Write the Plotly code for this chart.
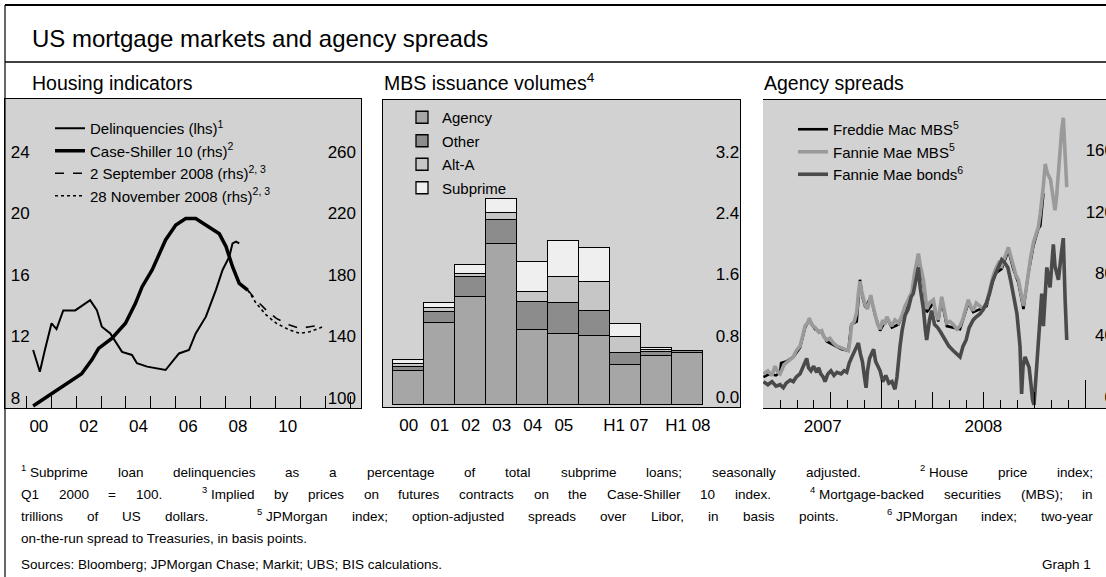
import re
import plotly.graph_objects as go

W, H = 1106, 577
FONT = "Liberation Sans, Arial, sans-serif"

# ---------------- Panel 1: Housing indicators ----------------
delinq_t = [2000.27, 2000.54, 2000.74, 2001.01, 2001.21, 2001.48, 2001.96, 2002.36, 2002.56, 2002.83,
            2003.03, 2003.37, 2003.64, 2003.84, 2004.24, 2004.44, 2004.85, 2005.25, 2005.59, 2005.86,
            2006.13, 2006.53, 2006.80, 2007.21, 2007.61, 2007.88, 2008.15, 2008.28, 2008.42, 2008.55]
delinq_v = [11.64, 10.23, 11.62, 13.38, 13.0, 14.22, 14.22, 14.68, 14.89, 14.24,
            13.16, 12.72, 12.08, 11.52, 11.32, 10.78, 10.56, 10.45, 10.34, 10.88,
            11.42, 11.64, 12.72, 13.81, 15.54, 16.85, 17.71, 18.58, 18.69, 18.58]

cs_t = [2000.27, 2001.01, 2001.55, 2002.22, 2002.63, 2002.90, 2003.43, 2003.98, 2004.38, 2004.65,
        2005.05, 2005.32, 2005.59, 2006.00, 2006.40, 2006.80, 2007.21, 2007.75, 2008.02, 2008.28,
        2008.55, 2008.89]
cs_v = [100.0, 108.0, 113.7, 121.0, 130.0, 137.5, 144.0, 153.8, 166.8, 177.6,
        188.5, 198.0, 208.0, 217.7, 222.0, 222.0, 217.7, 212.0, 203.6, 190.6,
        179.8, 175.4]

fut_sep_t = [2008.89, 2009.23, 2009.63, 2010.04, 2010.57, 2010.98, 2011.38, 2011.92]
fut_sep_v = [175.4, 168.9, 162.4, 157.0, 152.7, 150.5, 151.6, 152.7]
fut_nov_t = [2008.89, 2009.23, 2009.63, 2010.04, 2010.57, 2010.98, 2011.38, 2011.92]
fut_nov_v = [175.4, 166.8, 159.2, 153.8, 149.4, 147.3, 148.3, 151.6]

p1_year_ticks = list(range(2000, 2014))
p1_label_pos = [2000.5, 2002.5, 2004.5, 2006.5, 2008.5, 2010.5]
p1_label_text = ["00", "02", "04", "06", "08", "10"]
p1_lhs_ticks = [8, 12, 16, 20, 24]
p1_rhs_ticks = [100, 140, 180, 220, 260]

# ---------------- Panel 2: MBS issuance volumes ----------------
mbs_cat = ["00", "01", "02", "03", "04", "05", "06", "H1 07", "H2 07", "H1 08"]
mbs_ticktext = ["00", "01", "02", "03", "04", "05", "", "H1 07", "", "H1 08"]
agency = [0.44, 1.07, 1.41, 2.10, 0.98, 0.93, 0.905, 0.52, 0.64, 0.675]
other = [0.06, 0.15, 0.26, 0.32, 0.36, 0.40, 0.32, 0.16, 0.05, 0.025]
alt_a = [0.03, 0.04, 0.045, 0.08, 0.14, 0.34, 0.38, 0.21, 0.025, 0.007]
subprime = [0.06, 0.07, 0.11, 0.19, 0.38, 0.465, 0.44, 0.165, 0.035, 0.004]
p2_ticks = [0.0, 0.8, 1.6, 2.4, 3.2]

# ---------------- Panel 3: Agency spreads ----------------
fnm_mbs_t = [2007.418, 2007.44, 2007.46, 2007.475, 2007.49, 2007.50, 2007.52, 2007.545, 2007.565, 2007.58,
             2007.598, 2007.61, 2007.623, 2007.635, 2007.644, 2007.655, 2007.672, 2007.69, 2007.705, 2007.715,
             2007.73, 2007.745, 2007.762, 2007.78, 2007.803, 2007.82, 2007.836, 2007.845, 2007.852, 2007.865,
             2007.877, 2007.885, 2007.893, 2007.90, 2007.91, 2007.92, 2007.93, 2007.946, 2007.955, 2007.967,
             2007.98, 2007.992, 2008.005, 2008.015, 2008.025, 2008.04, 2008.05, 2008.065, 2008.082, 2008.10,
             2008.115, 2008.13, 2008.148, 2008.16, 2008.172, 2008.18, 2008.19, 2008.205, 2008.215, 2008.221,
             2008.235, 2008.254, 2008.265, 2008.278, 2008.295, 2008.305, 2008.32, 2008.335, 2008.352, 2008.37,
             2008.385, 2008.40, 2008.415, 2008.426, 2008.44, 2008.45, 2008.465, 2008.484, 2008.50, 2008.516,
             2008.533, 2008.545, 2008.557, 2008.575, 2008.59, 2008.605, 2008.623, 2008.635, 2008.647, 2008.66,
             2008.672, 2008.685, 2008.697, 2008.71, 2008.721, 2008.733, 2008.746, 2008.758, 2008.77, 2008.78,
             2008.787, 2008.795, 2008.804, 2008.815, 2008.83, 2008.84, 2008.852, 2008.86, 2008.868, 2008.877,
             2008.885, 2008.893, 2008.90, 2008.91]
fnm_mbs_v = [20, 22, 19, 25, 21, 20, 26, 29, 31, 35,
             38, 44, 51, 53, 56, 52, 50, 47, 48, 44,
             42, 43, 40, 38, 37, 36, 35, 43, 52, 54,
             60, 72, 80, 74, 68, 64, 62, 71, 65, 59,
             52, 49, 55, 52, 57, 53, 51, 55, 53, 58,
             64, 68, 73, 84, 92, 98, 90, 81, 70, 62,
             66, 68, 60, 55, 70, 63, 53, 54, 52, 49,
             51, 56, 62, 68, 63, 61, 66, 64, 62, 66,
             76, 82, 87, 92, 90, 95, 102, 96, 90, 84,
             81, 72, 64, 75, 87, 96, 105, 110, 115, 124,
             131, 142, 156, 150, 146, 138, 126, 135, 150, 165,
             178, 186, 170, 141]

fre_mbs_t = [2007.418, 2007.45, 2007.48, 2007.50, 2007.505, 2007.53, 2007.565, 2007.598, 2007.623, 2007.644,
             2007.672, 2007.705, 2007.73, 2007.762, 2007.803, 2007.836, 2007.85, 2007.877, 2007.885, 2007.893,
             2007.905, 2007.92, 2007.946, 2007.967, 2007.992, 2008.025, 2008.05, 2008.082, 2008.115, 2008.148,
             2008.18, 2008.205, 2008.221, 2008.254, 2008.278, 2008.295, 2008.32, 2008.352, 2008.385, 2008.426,
             2008.45, 2008.484, 2008.516, 2008.533, 2008.557, 2008.59, 2008.623, 2008.647, 2008.672, 2008.697,
             2008.721, 2008.746, 2008.77, 2008.78, 2008.787, 2008.795]
fre_mbs_v = [18, 20, 19, 21, 27, 28, 31, 37, 50, 55,
             49, 47, 41, 39, 36, 35, 52, 54, 68, 81,
             70, 63, 70, 58, 48, 56, 50, 52, 62, 72,
             96, 79, 60, 66, 54, 68, 51, 50, 49, 66,
             60, 62, 64, 74, 85, 88, 100, 88, 79, 62,
             85, 103, 114, 116, 128, 137]

fnm_bond_t = [2007.418, 2007.44, 2007.46, 2007.48, 2007.50, 2007.516, 2007.53, 2007.55, 2007.565, 2007.58,
              2007.598, 2007.61, 2007.62, 2007.631, 2007.64, 2007.652, 2007.665, 2007.68, 2007.69, 2007.70,
              2007.712, 2007.721, 2007.735, 2007.75, 2007.765, 2007.78, 2007.80, 2007.815, 2007.828, 2007.84,
              2007.853, 2007.87, 2007.885, 2007.895, 2007.905, 2007.915, 2007.923, 2007.93, 2007.94, 2007.95,
              2007.96, 2007.97, 2007.98, 2007.992, 2008.005, 2008.02, 2008.035, 2008.05, 2008.065, 2008.075,
              2008.09, 2008.10, 2008.115, 2008.13, 2008.145, 2008.155, 2008.17, 2008.18, 2008.19, 2008.205,
              2008.215, 2008.221, 2008.235, 2008.245, 2008.26, 2008.275, 2008.29, 2008.31, 2008.33, 2008.352,
              2008.37, 2008.385, 2008.40, 2008.415, 2008.43, 2008.45, 2008.465, 2008.484, 2008.50, 2008.515,
              2008.53, 2008.545, 2008.56, 2008.575, 2008.59, 2008.605, 2008.62, 2008.635, 2008.645, 2008.655,
              2008.665, 2008.675, 2008.68, 2008.688, 2008.695, 2008.705, 2008.715, 2008.725, 2008.735, 2008.742,
              2008.749, 2008.755, 2008.762, 2008.775, 2008.787, 2008.795, 2008.812, 2008.828, 2008.844, 2008.852,
              2008.869, 2008.885, 2008.893, 2008.902, 2008.91]
fnm_bond_v = [15, 13, 15, 12, 13, 11, 14, 16, 15, 18,
              20, 24, 27, 30, 24, 22, 25, 21, 24, 20,
              18, 15, 20, 22, 19, 21, 20, 22, 21, 27,
              31, 36, 40, 33, 28, 18, 11, 22, 30, 33,
              36, 28, 25, 22, 15, 19, 14, 15, 10, 18,
              38, 48, 58, 62, 70, 72, 82, 89, 75, 62,
              48, 42, 55, 61, 52, 50, 47, 42, 38, 35,
              33, 31, 38, 42, 50, 55, 57, 59, 62, 66,
              72, 80, 85, 90, 94, 92, 89, 80, 72, 64,
              59, 45, 38, 7, 25, 31, 28, 24, 12, 3,
              0, 12, 29, 50, 72, 51, 89, 76, 104, 90,
              81, 100, 108, 68, 42]

p3_label_pos = [2007.71, 2008.5]
p3_label_text = ["2007", "2008"]
p3_month_ticks = [2007.5, 2007.5833, 2007.6667, 2007.75, 2007.8333, 2007.9167, 2008.0, 2008.0833,
                  2008.1667, 2008.25, 2008.3333, 2008.4167, 2008.5, 2008.5833, 2008.6667, 2008.75,
                  2008.8333, 2008.9167, 2009.0]
p3_quarter_ticks = [2007.75, 2008.0, 2008.25, 2008.5, 2008.75, 2009.0]
p3_year_ticks = [2008.0, 2009.0]
p3_ticks = [0, 40, 80, 120, 160]

# ---------------- Texts ----------------
TITLE = "US mortgage markets and agency spreads"
PANEL_TITLES = ["Housing indicators", "MBS issuance volumes<sup>4</sup>", "Agency spreads"]
FOOTNOTE_JUSTIFIED = [
    "<sup>1</sup>\u00a0Subprime loan delinquencies as a percentage of total subprime loans; seasonally adjusted.  <sup>2</sup>\u00a0House price index;",
    "Q1 2000 = 100.  <sup>3</sup>\u00a0Implied by prices on futures contracts on the Case-Shiller 10 index.  <sup>4</sup>\u00a0Mortgage-backed securities (MBS); in",
    "trillions of US dollars.  <sup>5</sup>\u00a0JPMorgan index; option-adjusted spreads over Libor, in basis points.  <sup>6</sup>\u00a0JPMorgan index; two-year",
]
FOOTNOTE_LAST = "on-the-run spread to Treasuries, in basis points."
SOURCES = "Sources: Bloomberg; JPMorgan Chase; Markit; UBS; BIS calculations."
GRAPH_NO = "Graph 1"


def px(x):
    return x / W


def py(y):
    return 1 - y / H


# Arial / Liberation Sans advance widths (1/1000 em)
ARIAL = {' ': 278, '\u00a0': 278, '(': 333, ')': 333, ',': 278, '-': 333, '.': 278, ':': 278, ';': 278,
         '=': 584, 'A': 667, 'B': 667, 'C': 722, 'D': 722, 'E': 667, 'F': 611, 'G': 778, 'H': 722,
         'I': 278, 'J': 500, 'K': 667, 'L': 556, 'M': 833, 'N': 722, 'O': 778, 'P': 667, 'Q': 778,
         'R': 722, 'S': 667, 'T': 611, 'U': 722, 'V': 667, 'W': 944, 'X': 667, 'Y': 667, 'Z': 611,
         'a': 556, 'b': 556, 'c': 500, 'd': 556, 'e': 556, 'f': 278, 'g': 556, 'h': 556, 'i': 222,
         'j': 222, 'k': 500, 'l': 222, 'm': 833, 'n': 556, 'o': 556, 'p': 556, 'q': 556, 'r': 333,
         's': 500, 't': 278, 'u': 556, 'v': 500, 'w': 722, 'x': 500, 'y': 500, 'z': 500}


def text_width(s, size):
    total = 0.0
    for part in re.split(r'(<sup>.*?</sup>)', s):
        if part.startswith('<sup>'):
            total += 0.7 * sum(ARIAL.get(c, 556) for c in part[5:-6])
        else:
            total += sum(ARIAL.get(c, 556) for c in part)
    return total * size / 1000.0


fig = go.Figure()

# Panel 1 traces
fig.add_trace(go.Scatter(x=delinq_t, y=delinq_v, mode="lines", name="Delinquencies (lhs)<sup>1</sup>",
                         line=dict(color="black", width=2), xaxis="x", yaxis="y", legend="legend"))
fig.add_trace(go.Scatter(x=cs_t, y=cs_v, mode="lines", name="Case-Shiller 10 (rhs)<sup>2</sup>",
                         line=dict(color="black", width=3.5), xaxis="x", yaxis="y2", legend="legend"))
fig.add_trace(go.Scatter(x=fut_sep_t, y=fut_sep_v, mode="lines", name="2 September 2008 (rhs)<sup>2, 3</sup>",
                         line=dict(color="black", width=1.6, dash="dash"), xaxis="x", yaxis="y2", legend="legend"))
fig.add_trace(go.Scatter(x=fut_nov_t, y=fut_nov_v, mode="lines", name="28 November 2008 (rhs)<sup>2, 3</sup>",
                         line=dict(color="black", width=1.6, dash="dot"), xaxis="x", yaxis="y2", legend="legend"))

# Panel 2 traces
for name, vals, col in [("Agency", agency, "#a6a6a6"), ("Other", other, "#8c8c8c"),
                        ("Alt-A", alt_a, "#c6c6c6"), ("Subprime", subprime, "#efefef")]:
    fig.add_trace(go.Bar(x=mbs_cat, y=vals, name=name, marker=dict(color=col, line=dict(color="black", width=1.3)),
                         width=1.0, xaxis="x2", yaxis="y3", legend="legend2", legendgroup=name))

# Panel 3 traces
fig.add_trace(go.Scatter(x=fre_mbs_t, y=fre_mbs_v, mode="lines", name="Freddie Mac MBS<sup>5</sup>",
                         line=dict(color="black", width=2.6), xaxis="x3", yaxis="y4", legend="legend3",
                         legendgroup="a"))
fig.add_trace(go.Scatter(x=fnm_mbs_t, y=fnm_mbs_v, mode="lines", name="Fannie Mae MBS<sup>5</sup>",
                         line=dict(color="#9a9a9a", width=3.6), xaxis="x3", yaxis="y4", legend="legend3",
                         legendgroup="b"))
fig.add_trace(go.Scatter(x=fnm_bond_t, y=fnm_bond_v, mode="lines", name="Fannie Mae bonds<sup>6</sup>",
                         line=dict(color="#4a4a4a", width=3.6), xaxis="x3", yaxis="y4", legend="legend3",
                         legendgroup="c"))
# carriers so the overlaid tick-only axes of panel 3 get drawn
fig.add_trace(go.Scatter(x=[], y=[], xaxis="x4", yaxis="y4", showlegend=False, hoverinfo="skip"))
fig.add_trace(go.Scatter(x=[], y=[], xaxis="x5", yaxis="y4", showlegend=False, hoverinfo="skip"))

TICKFONT = dict(family=FONT, size=17, color="black")
BG = "#d2d2d2"

axis_common = dict(showgrid=False, zeroline=False, tickfont=TICKFONT, ticklabeloverflow="allow", automargin=False)
plain_axis = dict(showgrid=False, zeroline=False, automargin=False)

p1_dom_x = [px(5), px(361)]
p1_dom_y = [py(408), py(99)]
p2_dom_x = [px(383), px(740)]
p2_dom_y = [py(407), py(100)]
p3_dom_x = [px(763), 1.0]
p3_dom_y = [py(408), py(100)]
P3_RANGE = [2007.416, 2009.103]

fig.update_layout(
    xaxis=dict(domain=p1_dom_x, anchor="y", range=[1999.14, 2013.44], tickmode="array",
               tickvals=p1_label_pos, ticktext=p1_label_text, ticks="",
               minor=dict(tickmode="array", tickvals=p1_year_ticks, ticks="inside", ticklen=12,
                          tickcolor="black", tickwidth=1),
               showline=True, linecolor="black", linewidth=1.2, mirror=True, ticklabelstandoff=2, **axis_common),
    yaxis=dict(domain=p1_dom_y, anchor="x", range=[7.87, 27.97], tickmode="array", tickvals=p1_lhs_ticks,
               ticks="", ticklabelposition="inside", ticklabelshift=-8, ticklabelstandoff=6, showline=True,
               linecolor="black", linewidth=1.2, mirror=True, **axis_common),
    yaxis2=dict(overlaying="y", anchor="x", side="right", range=[98.7, 299.7], tickmode="array",
                tickvals=p1_rhs_ticks, ticks="", ticklabelposition="inside", ticklabelshift=-8,
                ticklabelstandoff=2, showline=False, **axis_common),
    xaxis2=dict(domain=p2_dom_x, anchor="y3", type="category", range=[-0.83, 10.68], tickmode="array",
                tickvals=mbs_cat, ticktext=mbs_ticktext, ticks="", showline=True, linecolor="black",
                linewidth=1.2, mirror=True, ticklabelstandoff=2, **axis_common),
    yaxis3=dict(domain=p2_dom_y, anchor="x2", side="right", range=[-0.026, 3.98], tickmode="array",
                tickvals=p2_ticks, tickformat=".1f", ticks="", ticklabelposition="inside", ticklabelshift=-8,
                ticklabelstandoff=1, showline=True, linecolor="black", linewidth=1.2, mirror=True, **axis_common),
    xaxis3=dict(domain=p3_dom_x, anchor="y4", range=P3_RANGE, tickmode="array",
                tickvals=p3_label_pos, ticktext=p3_label_text, ticks="",
                minor=dict(tickmode="array", tickvals=p3_month_ticks, ticks="inside", ticklen=8,
                           tickcolor="black", tickwidth=1),
                showline=True, linecolor="black", linewidth=1.2, mirror=True, ticklabelstandoff=2, **axis_common),
    xaxis4=dict(domain=p3_dom_x, anchor="y4", overlaying="x3", range=P3_RANGE, tickmode="array",
                tickvals=p3_quarter_ticks, ticks="inside", ticklen=16, tickcolor="black", tickwidth=1,
                showticklabels=False, showline=False, **plain_axis),
    xaxis5=dict(domain=p3_dom_x, anchor="y4", overlaying="x3", range=P3_RANGE, tickmode="array",
                tickvals=p3_year_ticks, ticks="inside", ticklen=28, tickcolor="black", tickwidth=1.3,
                showticklabels=False, showline=False, **plain_axis),
    yaxis4=dict(domain=p3_dom_y, anchor="x3", side="right", range=[-2.1, 197.5], tickmode="array",
                tickvals=p3_ticks, ticks="", ticklabelposition="inside", ticklabelshift=-8,
                ticklabelstandoff=-11, showline=False, **axis_common),
    yaxis5=dict(domain=p3_dom_y, anchor="x3", overlaying="y4", side="left", range=[-2.1, 197.5],
                showticklabels=False, ticks="", showline=True, linecolor="black", linewidth=1.2, **plain_axis),
    barmode="stack", bargap=0,
    width=W, height=H, margin=dict(l=0, r=0, t=0, b=0, autoexpand=False),
    paper_bgcolor="white", plot_bgcolor=BG,
    font=dict(family=FONT, color="black"),
    legend=dict(x=px(50), y=py(112), xanchor="left", yanchor="top", bgcolor="rgba(0,0,0,0)",
                font=dict(family=FONT, size=15), traceorder="normal", tracegroupgap=0),
    legend2=dict(x=px(402), y=py(101), xanchor="left", yanchor="top", bgcolor="rgba(0,0,0,0)",
                 font=dict(family=FONT, size=15), traceorder="grouped", tracegroupgap=1),
    legend3=dict(x=px(793), y=py(113), xanchor="left", yanchor="top", bgcolor="rgba(0,0,0,0)",
                 font=dict(family=FONT, size=15), traceorder="grouped", tracegroupgap=0),
    showlegend=True,
)

# Frame lines (decoration)
shapes = [
    dict(type="line", xref="paper", yref="paper", x0=px(5), x1=1.0, y0=py(5), y1=py(5),
         line=dict(color="black", width=2)),
    dict(type="line", xref="paper", yref="paper", x0=px(5), x1=1.0, y0=py(62), y1=py(62),
         line=dict(color="black", width=1.5)),
    dict(type="line", xref="paper", yref="paper", x0=px(5), x1=px(5), y0=py(5), y1=0.0,
         line=dict(color="black", width=1.2)),
]
fig.update_layout(shapes=shapes)

ann = []


def note(x, y, text, size, xanchor="left", yanchor="bottom"):
    ann.append(dict(xref="paper", yref="paper", x=x, y=y, text=text, xanchor=xanchor, yanchor=yanchor,
                    showarrow=False, borderpad=0, font=dict(family=FONT, size=size, color="black")))


note(px(31), py(38), TITLE, 24, yanchor="middle")
for t, xpos in zip(PANEL_TITLES, [31, 383, 763]):
    note(px(xpos), py(95), t, 19.5)

FN_SIZE = 13.5
line_bottoms = [481, 503, 525, 547]


def add_justified(line, x0, x1, ybot, size):
    words = []
    weight = 1
    for tok in line.split(' '):
        if tok == '':
            weight += 1
            continue
        words.append((tok, weight))
        weight = 1
    widths = [text_width(t, size) for t, _ in words]
    total_gap = sum(w for _, w in words[1:])
    unit = (x1 - x0 - sum(widths)) / total_gap
    x = x0
    for i, ((tok, wgt), wd) in enumerate(zip(words, widths)):
        if i > 0:
            x += unit * wgt
        note(px(x), py(ybot), tok, size)
        x += wd


for line, yb in zip(FOOTNOTE_JUSTIFIED, line_bottoms[:3]):
    add_justified(line, 20, 1092, yb, FN_SIZE)
note(px(20), py(line_bottoms[3]), FOOTNOTE_LAST, FN_SIZE)
note(px(20), py(573), SOURCES, FN_SIZE)
note(px(1092), py(573), GRAPH_NO, FN_SIZE, xanchor="right")
fig.update_layout(annotations=ann)

fig.write_html("out.html")
